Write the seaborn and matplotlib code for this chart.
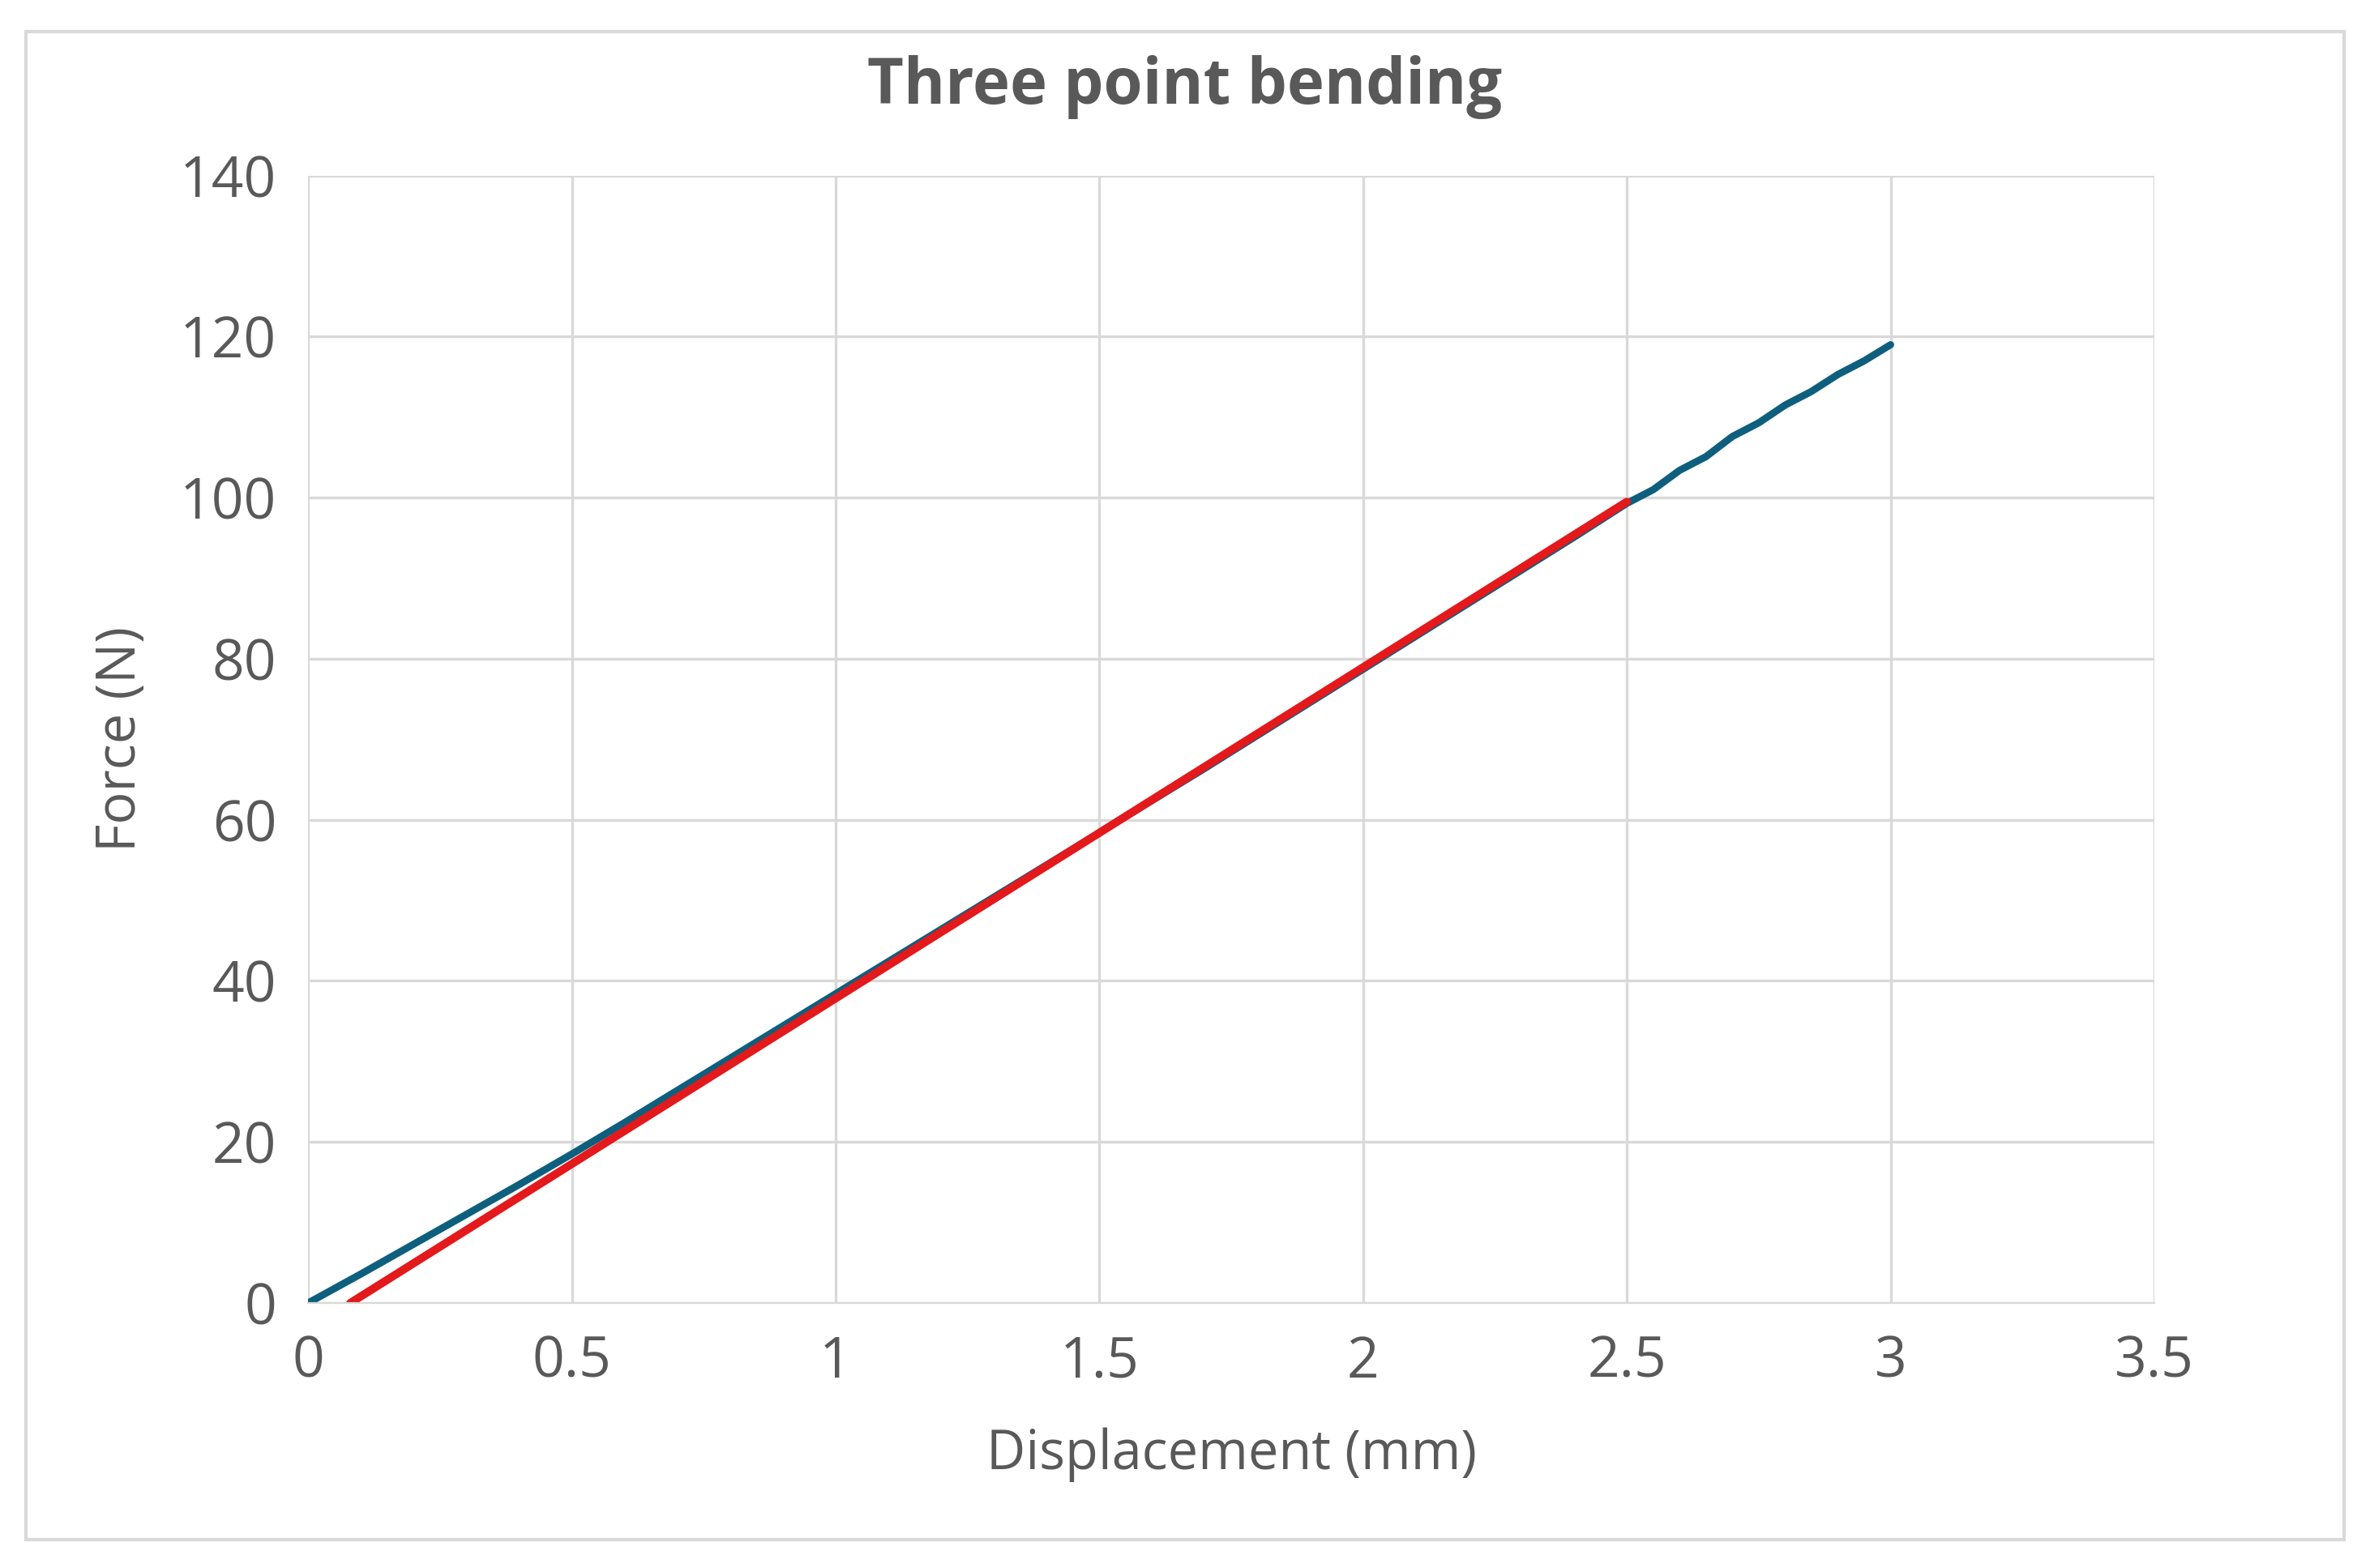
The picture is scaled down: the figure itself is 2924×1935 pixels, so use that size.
import matplotlib
matplotlib.use("Agg")
import matplotlib.pyplot as plt
import seaborn as sns
from matplotlib.patches import Rectangle

disp_mm = [0.0, 0.05, 0.1, 0.2, 0.3, 0.4, 0.5, 0.6, 0.7, 0.8, 0.9, 1.0, 1.1, 1.2, 1.3,
           1.4, 1.5, 1.6, 1.7, 1.8, 1.9, 2.0, 2.1, 2.2, 2.3, 2.4, 2.5, 2.55, 2.6, 2.65,
           2.7, 2.75, 2.8, 2.85, 2.9, 2.95, 3.0]
force_n = [0.0, 1.8, 3.6, 7.3, 11.0, 14.7, 18.5, 22.4, 26.4, 30.4, 34.4, 38.4, 42.4, 46.4, 50.4,
           54.4, 58.4, 62.4, 66.4, 70.5, 74.6, 78.7, 82.8, 86.9, 91.0, 95.1, 99.3, 101.0, 103.4, 105.1,
           107.6, 109.3, 111.5, 113.2, 115.3, 117.0, 119.0]

# Linear fit line
fit_disp = [0.08, 2.5]
fit_force = [0.0, 99.5]

sns.set_style("white")
plt.rcParams["font.family"] = ["Open Sans", "DejaVu Sans"]

fig = plt.figure(figsize=(14.62, 9.675), dpi=200)
ax = fig.add_axes([0.130, 0.169, 0.779, 0.719])

sns.lineplot(x=disp_mm, y=force_n, ax=ax, color="#0E5F7E", linewidth=3.2)
sns.lineplot(x=fit_disp, y=fit_force, ax=ax, color="#E3191C", linewidth=3.6)

ax.set_xlim(0, 3.5)
ax.set_ylim(0, 140)
ax.set_xticks([0, 0.5, 1, 1.5, 2, 2.5, 3, 3.5])
ax.set_xticklabels(["0", "0.5", "1", "1.5", "2", "2.5", "3", "3.5"])
ax.set_yticks(range(0, 141, 20))
ax.grid(True, color="#D9D9D9", linewidth=1.2)
for side in ["top", "right", "left"]:
    ax.spines[side].set_visible(False)
ax.spines["bottom"].set_color("#D9D9D9")
ax.tick_params(axis="both", labelsize=25, colors="#595959", length=0, pad=14)

ax.set_xlabel("Displacement (mm)", fontsize=24, color="#595959", labelpad=16)
ax.set_ylabel("Force (N)", fontsize=24, color="#595959", labelpad=14)
fig.suptitle("Three point bending", fontsize=28, fontweight="bold", color="#595959", y=0.965)

fig.patches.append(Rectangle((0.011, 0.018), 0.978, 0.962, transform=fig.transFigure,
                             fill=False, edgecolor="#D9D9D9", linewidth=1.5))

fig.savefig("out.png", dpi=200)
